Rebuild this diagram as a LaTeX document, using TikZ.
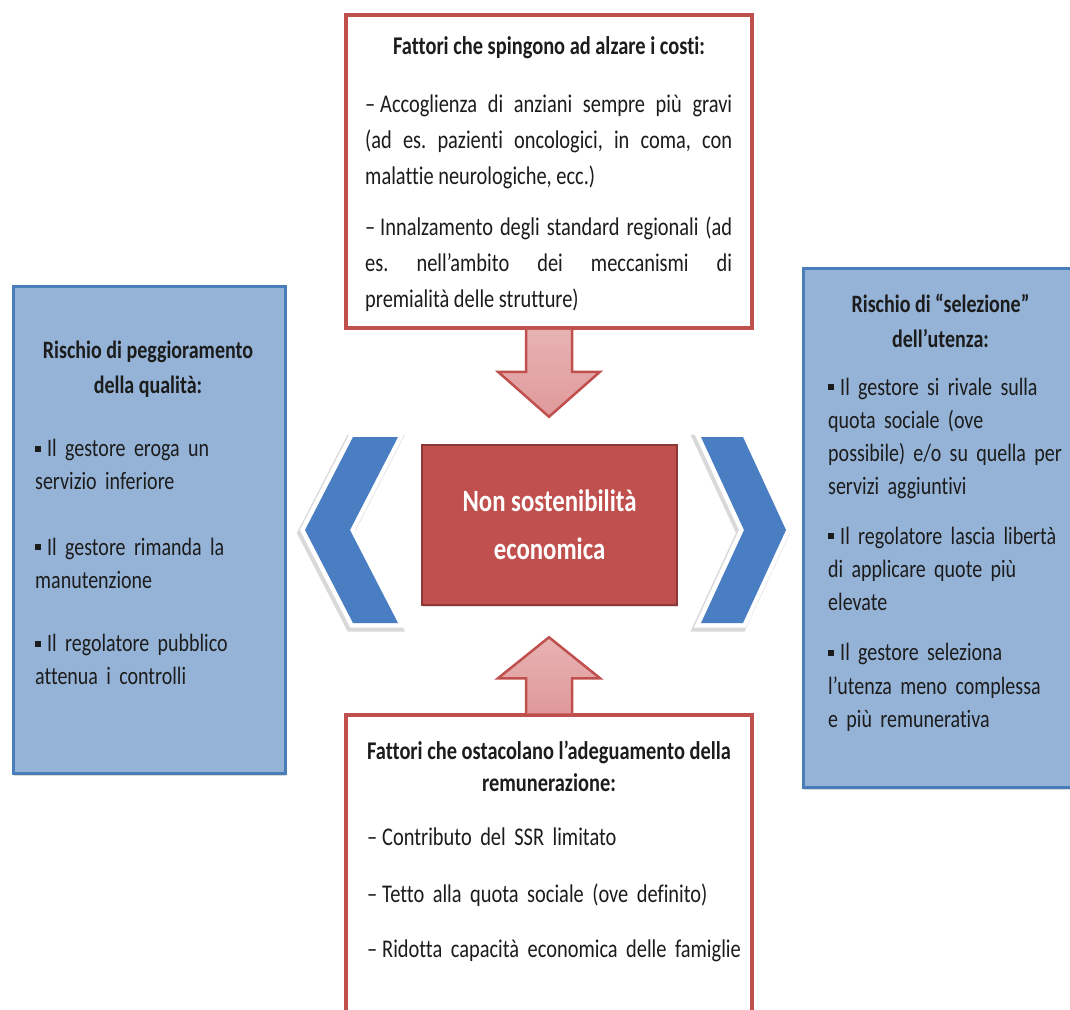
\documentclass[tikz,border=0pt]{standalone}
\usepackage{fontspec}
\setmainfont{Carlito}[FakeStretch=0.8, Ligatures={TeX,NoCommon}]
\usetikzlibrary{shadows}
\frenchspacing

\definecolor{boxred}{HTML}{C0504D}
\definecolor{darkred}{HTML}{8C3836}
\definecolor{arrowpink}{HTML}{E0999A}
\definecolor{boxblue}{HTML}{95B3D7}
\definecolor{lineblue}{HTML}{4A7EBB}
\definecolor{chevblue}{HTML}{4A7EC2}
\definecolor{inkgrey}{HTML}{1C1C1C}

\newcommand{\dashlead}{\hangindent=15pt\hangafter=1\noindent\strut\makebox[15pt][l]{–}}
\newcommand{\sqlead}{\hangindent=12pt\hangafter=1\noindent\strut\makebox[12pt][l]{\rule[5pt]{5.5pt}{6pt}}}

\begin{document}
\begin{tikzpicture}[x=1pt, y=-1pt,
        box red/.style = {rectangle, draw=boxred, line width=3.5pt, fill=white, inner sep=0pt},
        box blue/.style = {rectangle, draw=lineblue, line width=3pt, fill=boxblue, inner sep=0pt,
            drop shadow={shadow xshift=1pt, shadow yshift=-3pt, opacity=0.3}},
        box core/.style = {rectangle, draw=darkred, line width=2pt, fill=boxred, inner sep=0pt,
            drop shadow={shadow xshift=1pt, shadow yshift=-2pt, opacity=0.25}},
        box title/.style = {align=center, inner sep=0pt, text=inkgrey},
        item dash/.style = {anchor=west, inner sep=0pt, text=inkgrey, align=justify,
            font=\fontsize{25.5}{36}\selectfont, execute at end node=\strut},
        item sq/.style = {anchor=west, inner sep=0pt, text=inkgrey, align=left,
            font=\fontsize{25}{33.3}\selectfont, execute at end node=\strut},
        block arrow/.style = {draw=boxred, line width=2.5pt, line join=miter,
            top color=arrowpink!75!white, bottom color=arrowpink},
        chev/.style = {fill=chevblue,
            preaction={draw=black, opacity=0.15, line width=11pt, line join=miter,
                transform canvas={shift={(-2pt,-3pt)}}},
            preaction={draw=white, line width=9pt, line join=miter}},
        chev left/.style = {insert path={(353,437) -- (398,437) -- (350,530) -- (398,623) -- (353,623) -- (305,530) -- cycle}},
        chev right/.style = {insert path={(701,437) -- (743,437) -- (786,530) -- (743,623) -- (701,623) -- (744,530) -- cycle}},
        ]
        \useasboundingbox (0,0) rectangle (1070,1009);
        \clip (0,0) rectangle (1070,1009);

        % Boxes
        \node[box red, minimum width=406pt, minimum height=313pt] (costs) at (549,171.5) {};
        \node[box red, minimum width=406pt, minimum height=325pt] (remun) at (549,877.5) {};
        \node[box blue, minimum width=272pt, minimum height=487pt] (quality) at (149,529.5) {};
        \node[box blue, minimum width=282pt, minimum height=519pt] (selection) at (944,527.5) {};
        \node[box core, minimum width=255pt, minimum height=160pt] (nonsost) at (549.5,525) {};

        % Block arrows into the core box
        \draw[block arrow, shift={(costs.south)}] (-23,0) -- (-23,42) -- (-51,42) -- (0,87) -- (51,42) -- (23,42) -- (23,0);
        \draw[block arrow, shift={(remun.north)}] (-23,0) -- (-23,-35) -- (-51,-35) -- (0,-76) -- (51,-35) -- (23,-35) -- (23,0);

        % Chevrons
        \fill[chev, chev left];
        \fill[chev, chev right];

        % Core text
        \node[align=center, inner sep=0pt, text=white, font=\fontsize{31}{48}\selectfont\bfseries] (nonsosttxt) at (nonsost.center) {Non sostenibilità\\ economica};

        % Top box text
        \node[box title, font=\fontsize{25.5}{36}\selectfont\bfseries] (coststitle) at (549,48) {Fattori che spingono ad alzare i costi:};
        \node[item dash, text width=367pt] (costsA) at (365,141) {\dashlead Accoglienza di anziani sempre più gravi\linebreak (ad es. pazienti oncologici, in coma, con\linebreak malattie neurologiche, ecc.)};
        \node[item dash, text width=367pt] (costsB) at (365,264) {\dashlead Innalzamento degli standard regionali (ad\linebreak es. nell’ambito dei meccanismi di\linebreak premialità delle strutture)};

        % Bottom box text
        \node[box title, font=\fontsize{25.5}{32}\selectfont\bfseries] (remuntitle) at (549,766) {Fattori che ostacolano l’adeguamento della\\ remunerazione:};
        \node[item dash, align=left, text width=380pt] (remunA) at (367,838) {\dashlead Contributo del SSR limitato};
        \node[item dash, align=left, text width=380pt] (remunB) at (367,895) {\dashlead Tetto alla quota sociale (ove definito)};
        \node[item dash, align=left, text width=380pt] (remunC) at (367,950) {\dashlead Ridotta capacità economica delle famiglie};

        % Left box text
        \node[box title, font=\fontsize{25}{35}\selectfont\bfseries] (qualitytitle) at (148,369.5) {Rischio di peggioramento\\ della qualità:};
        \node[item sq, text width=245pt] (qualityA) at (35,466.5) {\sqlead Il gestore eroga un\\ servizio inferiore};
        \node[item sq, text width=245pt] (qualityB) at (35,565) {\sqlead Il gestore rimanda la\\ manutenzione};
        \node[item sq, text width=245pt] (qualityC) at (35,661.5) {\sqlead Il regolatore pubblico\\ attenua i controlli};

        % Right box text
        \node[box title, font=\fontsize{25}{35}\selectfont\bfseries] (selectiontitle) at (940.5,320.5) {Rischio di “selezione”\\ dell’utenza:};
        \node[item sq, text width=235pt] (selectionA) at (828,438.3) {\sqlead Il gestore si rivale sulla\\ quota sociale (ove\\ possibile) e/o su quella per\\ servizi aggiuntivi};
        \node[item sq, text width=235pt] (selectionB) at (828,571) {\sqlead Il regolatore lascia libertà\\ di applicare quote più\\ elevate};
        \node[item sq, text width=235pt] (selectionC) at (828,687.5) {\sqlead Il gestore seleziona\\ l’utenza meno complessa\\ e più remunerativa};
    \end{tikzpicture}
\end{document}
